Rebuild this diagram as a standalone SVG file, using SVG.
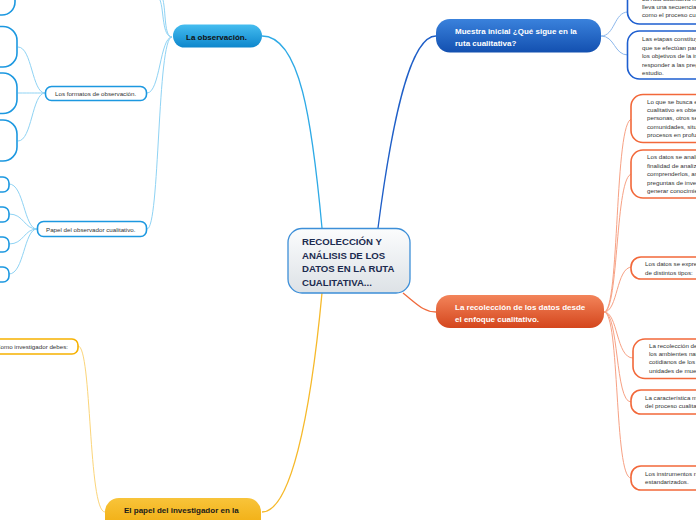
<svg xmlns="http://www.w3.org/2000/svg" width="696" height="520" viewBox="0 0 696 520">
<defs>
<linearGradient id="gCenter" x1="0" y1="0" x2="0" y2="1"><stop offset="0" stop-color="#fbfcfd"/><stop offset="1" stop-color="#dde2e6"/></linearGradient>
<linearGradient id="gLight" x1="0" y1="0" x2="0" y2="1"><stop offset="0" stop-color="#45bdf0"/><stop offset="1" stop-color="#0d86cc"/></linearGradient>
<linearGradient id="gDark" x1="0" y1="0" x2="0" y2="1"><stop offset="0" stop-color="#3a82dc"/><stop offset="1" stop-color="#1350b0"/></linearGradient>
<linearGradient id="gOrange" x1="0" y1="0" x2="0" y2="1"><stop offset="0" stop-color="#f3845a"/><stop offset="1" stop-color="#d4461d"/></linearGradient>
<linearGradient id="gYellow" x1="0" y1="0" x2="0" y2="1"><stop offset="0" stop-color="#f8c43a"/><stop offset="1" stop-color="#eea400"/></linearGradient>
</defs>
<style>
text{font-family:"Liberation Sans",Arial,sans-serif}
.c{fill:none}
.lb{stroke:#8fd3f4;stroke-width:1}
.db{stroke:#8db8ec;stroke-width:1}
.or{stroke:#f7a184;stroke-width:1}
.ye{stroke:#fbd57a;stroke-width:1}
.leafL{fill:#fff;stroke:#1c98e0;stroke-width:1.6}
.leafD{fill:#fff;stroke:#1e5fd0;stroke-width:1.6}
.leafO{fill:#fff;stroke:#f2683a;stroke-width:1.6}
.leafY{fill:#fff;stroke:#f6b100;stroke-width:1.6}
.s{font-size:6.2px;fill:#333}
.p{font-size:8px;font-weight:bold;fill:#fff}
</style>
<g id="connectors">
<path class="c" d="M322,228 C312,120 300,36 262,36" stroke="#2eaae6" stroke-width="1.3"/>
<path class="c" d="M378,228 C392,120 410,36 436,36" stroke="#1f5fc8" stroke-width="1.3"/>
<path class="c" d="M403,293 C418,305 424,312 436,312" stroke="#f06a3c" stroke-width="1.3"/>
<path class="c" d="M322,293 C310,420 290,512 262,512" stroke="#f6b92a" stroke-width="1.3"/>
<path class="c lb" d="M172,37 C164,37 166,12 163,0"/>
<path class="c lb" d="M172,37 C162,37 164,10 160,0"/>
<path class="c lb" d="M172,37 C160,37 160,93 147,93"/>
<path class="c lb" d="M172,37 C157,37 160,229 147,229"/>
<path class="c lb" d="M45,93 C32,93 32,47 18,47"/>
<path class="c lb" d="M45,93 C32,93 32,93 18,93"/>
<path class="c lb" d="M45,93 C32,93 32,141 18,141"/>
<path class="c lb" d="M37,229 C24,229 24,184 9,184"/>
<path class="c lb" d="M37,229 C24,229 24,214 9,214"/>
<path class="c lb" d="M37,229 C24,229 24,244 9,244"/>
<path class="c lb" d="M37,229 C24,229 24,274 9,274"/>
<path class="c db" d="M601,36 C615,36 614,12 628,12"/>
<path class="c db" d="M601,36 C615,36 614,55 628,55"/>
<path class="c or" d="M604,312 C620,312 614,119 632,119"/>
<path class="c or" d="M604,312 C619,312 615,174 632,174"/>
<path class="c or" d="M604,312 C618,312 616,267 632,267"/>
<path class="c or" d="M604,312 C618,312 616,358 633,358"/>
<path class="c or" d="M604,312 C619,312 615,402 631,402"/>
<path class="c or" d="M604,312 C620,312 614,478 631,478"/>
<path class="c ye" d="M105,512 C88,512 92,346 78,346"/>
</g>
<g id="center">
<rect x="288" y="228.5" width="122" height="64.5" rx="14" fill="url(#gCenter)" stroke="#3d8fd8" stroke-width="1.3"/>
<text x="302" y="245" font-size="9.6" font-weight="bold" fill="#1c2b4f">RECOLECCIÓN Y</text>
<text x="302" y="258.5" font-size="9.6" font-weight="bold" fill="#1c2b4f">ANÁLISIS DE LOS</text>
<text x="302" y="272" font-size="9.6" font-weight="bold" fill="#1c2b4f">DATOS EN LA RUTA</text>
<text x="302" y="285.5" font-size="9.6" font-weight="bold" fill="#1c2b4f">CUALITATIVA...</text>
</g>
<g id="observacion">
<rect x="173" y="24.5" width="89" height="23" rx="11.5" fill="url(#gLight)"/>
<text x="186" y="39.5" font-size="8" font-weight="bold" fill="#111">La observación.</text>
</g>
<g id="obs-top1"><rect x="-60" y="-25" width="75" height="40" rx="13" class="leafL"/></g>
<g id="formatos">
<rect x="45.5" y="86.5" width="101" height="14" rx="6" class="leafL"/>
<text x="55" y="96" class="s" font-size="6">Los formatos de observación.</text>
</g>
<g id="formato1"><rect x="-60" y="26.5" width="77" height="40.5" rx="14" class="leafL"/></g>
<g id="formato2"><rect x="-60" y="73" width="77" height="40.5" rx="14" class="leafL"/></g>
<g id="formato3"><rect x="-60" y="120" width="77" height="41" rx="14" class="leafL"/></g>
<g id="papel">
<rect x="37.5" y="221.5" width="109" height="15" rx="6" class="leafL"/>
<text x="46" y="231.5" class="s" font-size="6">Papel del observador cualitativo.</text>
</g>
<g id="papel1"><rect x="-40" y="177" width="49" height="15" rx="6" class="leafL"/></g>
<g id="papel2"><rect x="-40" y="207" width="49" height="15" rx="6" class="leafL"/></g>
<g id="papel3"><rect x="-40" y="237" width="49" height="15" rx="6" class="leafL"/></g>
<g id="papel4"><rect x="-40" y="267" width="49" height="15" rx="6" class="leafL"/></g>
<g id="muestra">
<rect x="436" y="19" width="165" height="33.5" rx="14" fill="url(#gDark)"/>
<text x="455" y="34" class="p">Muestra inicial ¿Qué sigue en la</text>
<text x="455" y="46" class="p">ruta cualitativa?</text>
</g>
<g id="muestra1">
<rect x="627.5" y="-30" width="120" height="54" rx="12" class="leafD"/>
<text x="642" y="1" class="s">La ruta cualitativa no es tan</text>
<text x="642" y="9" class="s">lleva una secuencia rígida</text>
<text x="642" y="17" class="s">como el proceso cuantitativo.</text>
</g>
<g id="muestra2">
<rect x="627.5" y="31" width="120" height="48" rx="12" class="leafD"/>
<text x="642" y="41" class="s">Las etapas constituyen acciones</text>
<text x="642" y="49.5" class="s">que se efectúan para cumplir con</text>
<text x="642" y="58" class="s">los objetivos de la investigación y</text>
<text x="642" y="66.5" class="s">responder a las preguntas del</text>
<text x="642" y="75" class="s">estudio.</text>
</g>
<g id="recoleccion">
<rect x="436" y="295" width="168" height="33" rx="14" fill="url(#gOrange)"/>
<text x="455" y="310" class="p">La recolección de los datos desde</text>
<text x="455" y="322" class="p">el enfoque cualitativo.</text>
</g>
<g id="rec1">
<rect x="631" y="94.5" width="120" height="48" rx="12" class="leafO"/>
<text x="647" y="104" class="s">Lo que se busca en un estudio</text>
<text x="647" y="112" class="s">cualitativo es obtener datos de</text>
<text x="647" y="120" class="s">personas, otros seres vivos,</text>
<text x="647" y="128.5" class="s">comunidades, situaciones o</text>
<text x="647" y="137" class="s">procesos en profundidad.</text>
</g>
<g id="rec2">
<rect x="631" y="150" width="120" height="48" rx="12" class="leafO"/>
<text x="647" y="159" class="s">Los datos se analizan con la</text>
<text x="647" y="167.5" class="s">finalidad de analizarlos y</text>
<text x="647" y="176" class="s">comprenderlos, así como responder a</text>
<text x="647" y="184.5" class="s">preguntas de investigación y</text>
<text x="647" y="193" class="s">generar conocimiento.</text>
</g>
<g id="rec3">
<rect x="631" y="257" width="120" height="22" rx="10" class="leafO"/>
<text x="645" y="266" class="s">Los datos se expresan de forma</text>
<text x="645" y="274.5" class="s">de distintos tipos:</text>
</g>
<g id="rec4">
<rect x="633" y="339" width="120" height="39.5" rx="12" class="leafO"/>
<text x="649" y="348" class="s">La recolección de datos ocurre en</text>
<text x="649" y="356" class="s">los ambientes naturales y</text>
<text x="649" y="364" class="s">cotidianos de los participantes o</text>
<text x="649" y="372.5" class="s">unidades de muestreo.</text>
</g>
<g id="rec5">
<rect x="631" y="390" width="120" height="24" rx="10" class="leafO"/>
<text x="645" y="399.5" class="s">La característica más importante</text>
<text x="645" y="408" class="s">del proceso cualitativo</text>
</g>
<g id="rec6">
<rect x="631" y="466" width="120" height="24" rx="10" class="leafO"/>
<text x="645" y="475.5" class="s">Los instrumentos no son</text>
<text x="645" y="484" class="s">estandarizados.</text>
</g>
<g id="investigador">
<rect x="105" y="498" width="156" height="40" rx="14" fill="url(#gYellow)"/>
<text x="124" y="513" font-size="8" font-weight="bold" fill="#1a1a1a">El papel del investigador en la</text>
<text x="124" y="525.5" font-size="8" font-weight="bold" fill="#1a1a1a">recolección de los datos.</text>
</g>
<g id="debes">
<rect x="-40" y="339" width="118" height="15" rx="6" class="leafY"/>
<text x="68" y="348.5" class="s" text-anchor="end" font-size="6">Como investigador debes:</text>
</g>
</svg>
